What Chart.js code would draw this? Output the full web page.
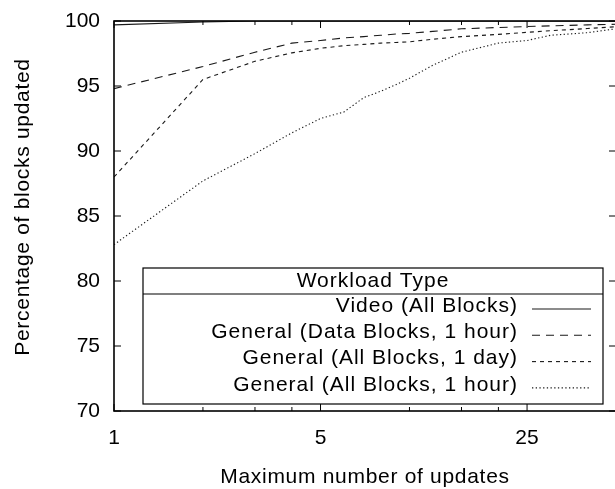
<!DOCTYPE html>
<html>
<head>
<meta charset="utf-8">
<script src="https://cdn.jsdelivr.net/npm/chart.js@4.4.0/dist/chart.umd.min.js"></script>
<style>
  html, body { margin: 0; padding: 0; background: #fff; overflow: hidden; }
  canvas { display: block; }
</style>
</head>
<body>
<canvas id="myChartLine" width="617" height="489"></canvas>
<script>
/* globals Chart:false */
// max number of updates (x) and % of blocks updated per workload
const updates = [1, 2, 3, 4, 5, 6, 7, 8, 9, 10, 12, 15, 20, 25, 30, 40, 50];
const videoAll = [99.7, 99.92, 100, 100, 100, 100, 100, 100, 100, 100, 100, 100, 100, 100, 100, 100, 100];
const generalData1h = [94.8, 96.5, 97.6, 98.3, 98.5, 98.7, 98.8, 98.9, 99.0, 99.05, 99.2, 99.4, 99.5, 99.57, 99.63, 99.7, 99.75];
const generalAll1d = [88.0, 95.5, 96.9, 97.55, 97.9, 98.1, 98.2, 98.3, 98.35, 98.4, 98.6, 98.8, 98.97, 99.13, 99.25, 99.42, 99.56];
const generalAll1h = [82.8, 87.7, 89.8, 91.4, 92.5, 93.0, 94.1, 94.6, 95.1, 95.6, 96.6, 97.6, 98.3, 98.5, 98.9, 99.1, 99.4];

const seriesLabels = ['Video (All Blocks)', 'General (Data Blocks, 1 hour)', 'General (All Blocks, 1 day)', 'General (All Blocks, 1 hour)'];
const xTickValues = [1, 2, 3, 4, 5, 10, 15, 20, 25, 50];
const xLabelValues = [1, 5, 25];
const yTickValues = [70, 75, 80, 85, 90, 95, 100];

const FONT = "'Liberation Sans', Arial, Helvetica, sans-serif";
const dashes = [[], [8, 6], [4, 4], [1.3, 2.4]];

function toPoints(ys) {
  return updates.map((x, i) => ({ x: x, y: ys[i] }));
}

const frameAndLegend = {
  id: 'frameAndLegend',
  afterDraw(chart) {
    const { ctx, chartArea: a, scales: { x, y } } = chart;
    const seg = (x1, y1, x2, y2) => { ctx.beginPath(); ctx.moveTo(x1, y1); ctx.lineTo(x2, y2); ctx.stroke(); };
    ctx.save();
    ctx.strokeStyle = '#000';
    ctx.lineWidth = 1;
    ctx.setLineDash([]);
    // inward ticks, mirrored on both sides
    yTickValues.forEach(v => {
      const py = y.getPixelForValue(v);
      seg(a.left, py, a.left + 7, py);
      seg(a.right - 7, py, a.right, py);
    });
    xTickValues.forEach(v => {
      const px = x.getPixelForValue(v);
      const len = xLabelValues.includes(v) ? 7 : 4;
      seg(px, a.bottom, px, a.bottom - len);
      seg(px, a.top, px, a.top + len);
    });
    ctx.lineWidth = 1.6;
    ctx.strokeRect(a.left, a.top, a.right - a.left, a.bottom - a.top);

    // axis titles
    ctx.fillStyle = '#000';
    ctx.font = '21px ' + FONT;
    ctx.letterSpacing = '0.7px';
    ctx.textAlign = 'center';
    ctx.textBaseline = 'alphabetic';
    ctx.fillText('Maximum number of updates', (a.left + a.right) / 2, 483);
    ctx.save();
    ctx.translate(29, 207);
    ctx.rotate(-Math.PI / 2);
    ctx.fillText('Percentage of blocks updated', 0, 0);
    ctx.restore();

    // legend box
    const bx = 143, by = 268, bw = 460, bh = 136;
    ctx.fillStyle = '#fff';
    ctx.fillRect(bx, by, bw, bh);
    ctx.lineWidth = 1.2;
    ctx.strokeRect(bx, by, bw, bh);
    seg(bx, 294, bx + bw, 294);
    ctx.fillStyle = '#000';
    ctx.letterSpacing = '1px';
    ctx.textBaseline = 'middle';
    ctx.textAlign = 'center';
    ctx.fillText('Workload Type', bx + bw / 2, 281);
    ctx.textAlign = 'right';
    chart.data.datasets.forEach((ds, i) => {
      const ty = 306 + 26.3 * i;
      ctx.fillText(ds.label, 518, ty);
      ctx.strokeStyle = ds.borderColor;
      ctx.lineWidth = ds.borderWidth;
      ctx.setLineDash(ds.borderDash || []);
      seg(532, ty + 3, 591, ty + 3);
    });
    ctx.restore();
  }
};

const myChartLine = document.getElementById('myChartLine');
if (myChartLine) {
  new Chart(myChartLine, {
    type: 'line',
    data: {
      datasets: [videoAll, generalData1h, generalAll1d, generalAll1h].map((ys, i) => ({
        label: seriesLabels[i],
        data: toPoints(ys),
        borderColor: '#1a1a1a',
        borderWidth: 1.1,
        borderDash: dashes[i],
        pointRadius: 0,
        tension: 0,
        fill: false
      }))
    },
    options: {
      responsive: false,
      animation: false,
      layout: { padding: { top: 21, right: 1, left: 0, bottom: 0 } },
      plugins: {
        legend: { display: false },
        tooltip: { enabled: false }
      },
      scales: {
        x: {
          type: 'logarithmic',
          min: 1,
          max: 50,
          grid: { display: false, drawTicks: false },
          border: { display: false },
          afterBuildTicks: scale => { scale.ticks = xTickValues.map(v => ({ value: v })); },
          afterFit: scale => {
            scale.height = 78;
            scale.paddingLeft = 0;
            scale.paddingRight = 0;
          },
          ticks: {
            autoSkip: false,
            maxRotation: 0,
            padding: 15,
            color: '#000',
            font: { family: FONT, size: 21 },
            callback: v => (xLabelValues.includes(v) ? String(v) : '')
          }
        },
        y: {
          min: 70,
          max: 100,
          grid: { display: false, drawTicks: false },
          border: { display: false },
          afterBuildTicks: scale => { scale.ticks = yTickValues.map(v => ({ value: v })); },
          afterFit: scale => {
            scale.width = 114;
            scale.paddingTop = 0;
            scale.paddingBottom = 0;
          },
          ticks: {
            padding: 14,
            color: '#000',
            font: { family: FONT, size: 21 }
          }
        }
      }
    },
    plugins: [frameAndLegend]
  });
}
</script>
</body>
</html>
